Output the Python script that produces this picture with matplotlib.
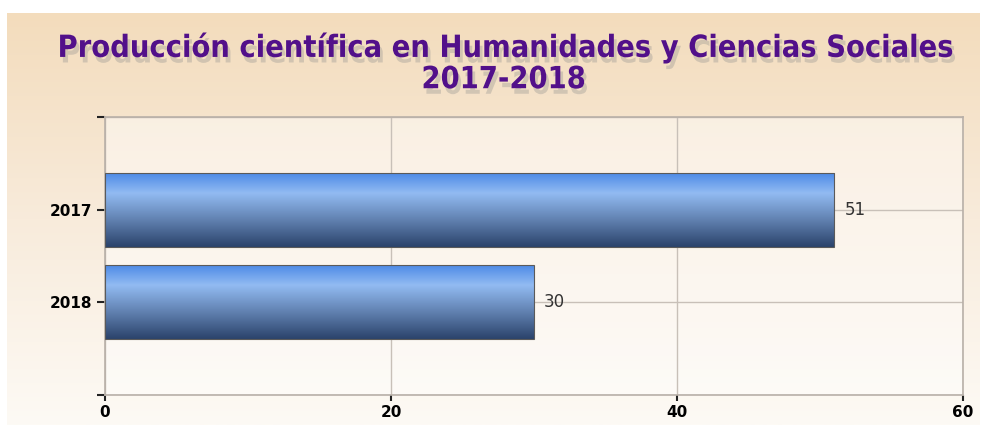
import numpy as np
import matplotlib
matplotlib.use("Agg")
import matplotlib.pyplot as plt
import matplotlib.patheffects as pe
from matplotlib.colors import LinearSegmentedColormap

years = ["2017", "2018"]
counts = [51, 30]
xticks = [0, 20, 40, 60]
title = "Producción científica en Humanidades y Ciencias Sociales\n2017-2018"

fig = plt.figure(figsize=(9.87, 4.25), dpi=100)

# beige gradient background
bg = fig.add_axes([7 / 987, 0, 973 / 987, 412 / 425], zorder=-2)
bg_cmap = LinearSegmentedColormap.from_list("bg", ["#f3dcbc", "#f8ebdb", "#fdfaf5"])
bg.imshow(np.linspace(0, 1, 256).reshape(-1, 1), aspect="auto", cmap=bg_cmap,
          extent=[0, 1, 0, 1])
bg.axis("off")

ax = fig.add_axes([105 / 987, 30 / 425, 858 / 987, 278 / 425])
ax.set_facecolor((1, 1, 1, 0.45))

pos = np.arange(len(years), 0, -1)
bars = ax.barh(pos, counts, height=0.8, color="none", edgecolor="#5a5a5a",
               linewidth=0.8, zorder=3)

bar_cmap = LinearSegmentedColormap.from_list(
    "bar", [(0, "#2b436b"), (0.35, "#5f7fae"), (0.72, "#92bbf2"), (1, "#4a88e6")])
grad = np.linspace(0, 1, 256).reshape(-1, 1)
for b in bars:
    x0, y0 = b.get_x(), b.get_y()
    im = ax.imshow(grad, aspect="auto", cmap=bar_cmap, origin="lower",
                   extent=[x0, x0 + b.get_width(), y0, y0 + b.get_height()],
                   zorder=2)
    im.set_clip_path(b)

for p, c in zip(pos, counts):
    ax.text(c + 0.7, p, str(c), va="center", ha="left", fontsize=12,
            color="#333333", zorder=4)

ax.set_xlim(0, 60)
ax.set_ylim(0, 3)
ax.set_xticks(xticks)
ax.set_xticklabels([str(t) for t in xticks], fontsize=11, fontweight="bold")
ax.set_yticks([0, 1, 2, 3])
ax.set_yticklabels(["", years[1], years[0], ""], fontsize=11, fontweight="bold")
ax.tick_params(axis="both", length=6, width=1.5, color="#222222", pad=3)
ax.tick_params(axis="x", length=4)

ax.grid(True, color="#c8c0b8", linewidth=1, zorder=0)
ax.set_axisbelow(True)
for s in ax.spines.values():
    s.set_color("#b8b0a8")
    s.set_linewidth(1.2)

fig.text(0.51, 0.851, title, ha="center", va="center", fontsize=22,
         fontfamily="DejaVu Sans", fontstretch="condensed",
         fontweight="bold", color="#52108a", linespacing=1.1,
         path_effects=[pe.SimplePatchShadow(offset=(2, -4), shadow_rgbFace="#8a8a8a",
                                            alpha=0.32),
                       pe.Normal()])

fig.savefig("out.png", dpi=100)
